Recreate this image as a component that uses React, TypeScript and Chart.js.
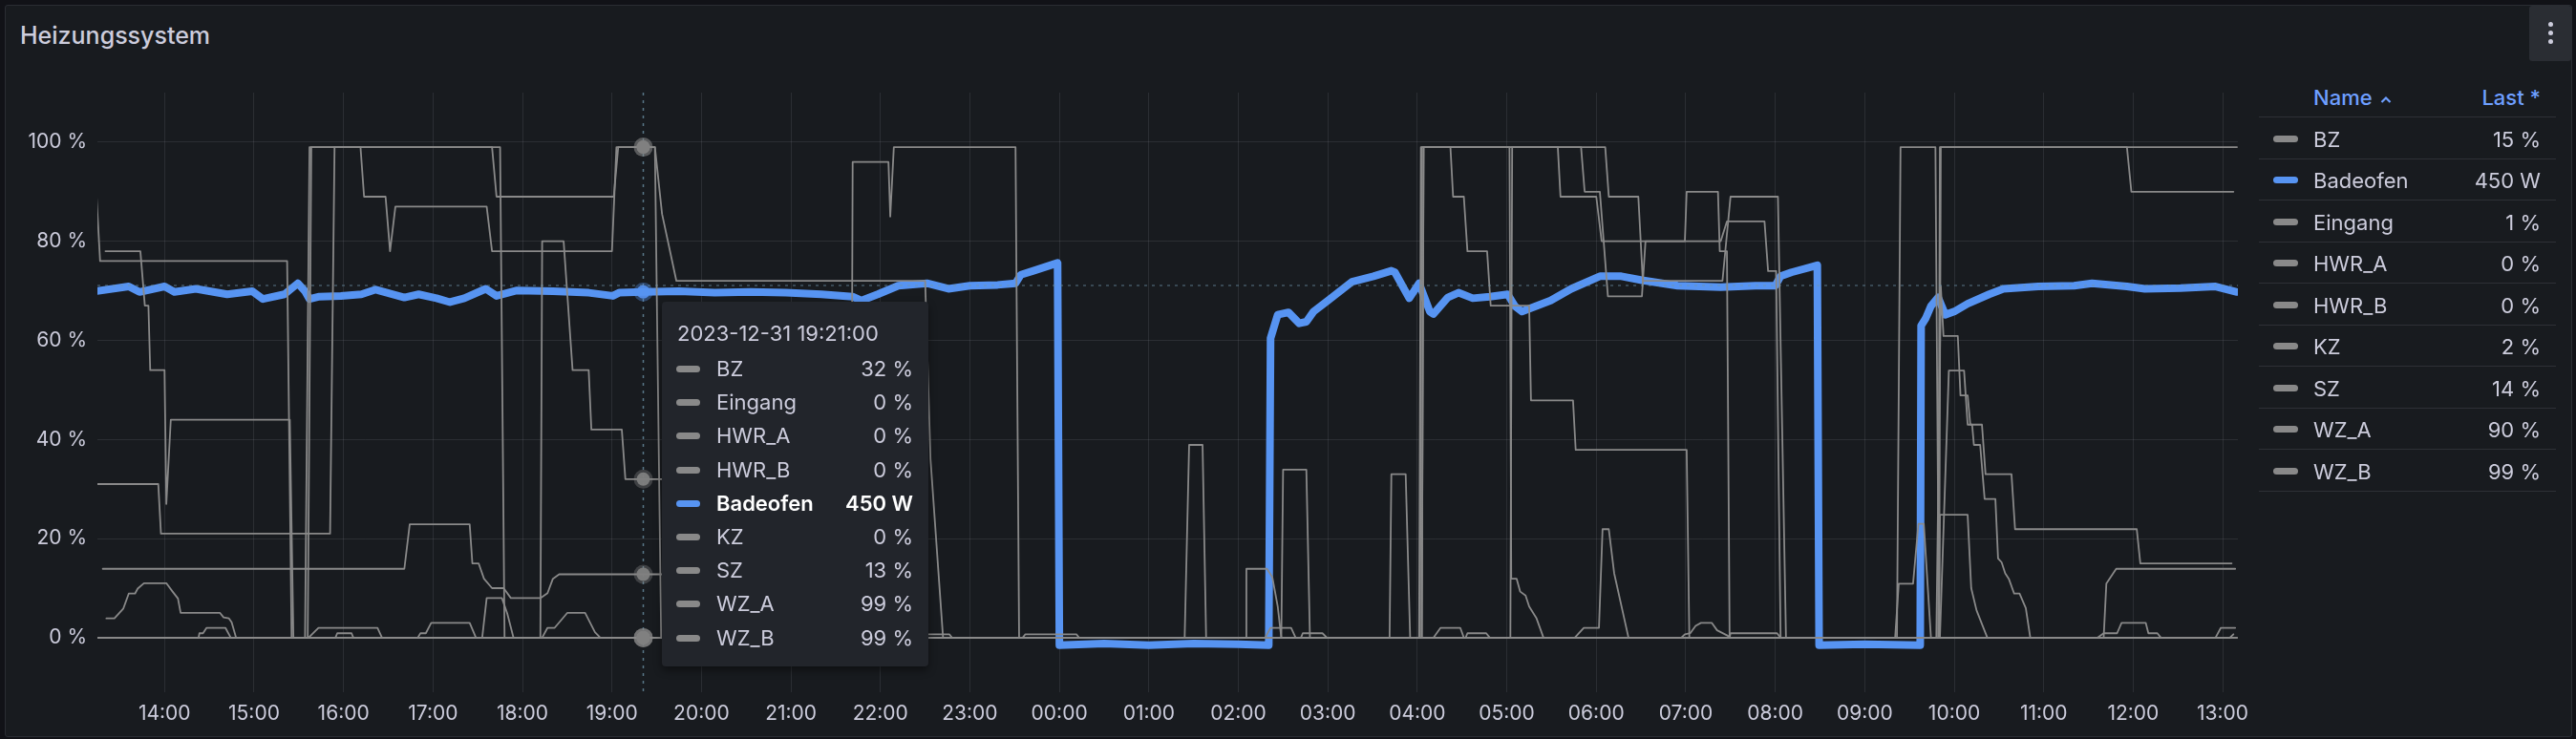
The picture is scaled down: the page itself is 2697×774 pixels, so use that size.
import React, { useEffect, useRef } from "react";
import { Chart, registerables } from "chart.js";

Chart.register(...registerables);

type P = [number, number];

// x values are hours counted from 2023-12-31 00:00
const X_MIN = 13.25;
const X_MAX = 37.17;
const HOUR_TICKS = [14, 15, 16, 17, 18, 19, 20, 21, 22, 23, 24, 25, 26, 27, 28, 29, 30, 31, 32, 33, 34, 35, 36, 37];
const PCT_TICKS = [0, 20, 40, 60, 80, 100];
const PCT_MIN = -11;
const PCT_MAX = 110;
const WATT_MIN = -60;
const WATT_MAX = 704;

const HOVER_T = 19.35;
const HOVER_PCT = 71.1;
const HOVER_DATE = "2023-12-31";

const BZ: P[] = [
  [13.34, 78], [13.73, 78], [13.78, 67], [13.82, 67], [13.84, 54], [14.0, 54], [14.02, 27], [14.07, 44],
  [15.4, 44], [15.44, 0], [15.6, 0], [15.64, 99], [17.75, 99], [17.8, 0], [18.2, 0], [18.22, 80],
  [18.46, 80], [18.56, 54], [18.74, 54], [18.77, 42], [19.11, 42], [19.15, 32], [21.0, 32], [21.05, 0],
  [26.48, 0], [26.5, 33.9], [26.76, 33.9], [26.8, 0], [29.04, 0], [29.06, 99], [30.1, 99], [30.14, 89],
  [30.47, 89], [30.52, 72], [31.41, 72], [31.5, 89], [32.03, 89], [32.12, 0], [33.8, 0], [33.85, 70.9],
  [33.88, 60.9], [34.04, 60.9], [34.07, 48.9], [34.15, 48.9], [34.18, 43], [34.31, 43], [34.35, 33],
  [34.64, 33], [34.68, 21.9], [36.04, 21.9], [36.08, 15], [37.1, 15],
];

const BADEOFEN: P[] = [
  [13.24, 451], [13.6, 457], [13.72, 450], [14.0, 457], [14.11, 450], [14.35, 454], [14.7, 447], [14.98, 451],
  [15.1, 441], [15.34, 447], [15.49, 461], [15.57, 451], [15.62, 441], [15.73, 444], [15.97, 445], [16.2, 447],
  [16.36, 453], [16.68, 443], [16.84, 447], [17.04, 442], [17.19, 437], [17.35, 442], [17.59, 454], [17.71, 445],
  [17.94, 452], [18.34, 451], [18.74, 449], [19.01, 445], [19.08, 449], [19.35, 450], [19.75, 451], [20.15, 449],
  [20.55, 450], [20.94, 449], [21.34, 447], [21.69, 444], [21.79, 439], [21.97, 447], [22.2, 458], [22.52, 461],
  [22.76, 454], [23.0, 458], [23.31, 459], [23.51, 461], [23.57, 472], [23.71, 477], [23.98, 487], [24.0, 0],
  [24.5, 2], [25.0, 0], [25.5, 2], [26.0, 1], [26.34, 0], [26.36, 391], [26.44, 421], [26.56, 424],
  [26.68, 410], [26.76, 412], [26.84, 425], [27.0, 439], [27.27, 463], [27.51, 470], [27.71, 477], [27.75, 475],
  [27.91, 442], [28.02, 461], [28.14, 425], [28.18, 422], [28.34, 443], [28.46, 449], [28.62, 442], [28.81, 444],
  [29.01, 447], [29.09, 432], [29.17, 425], [29.33, 432], [29.49, 439], [29.72, 454], [30.04, 470], [30.28, 470],
  [30.51, 465], [30.91, 458], [31.39, 456], [31.78, 458], [32.0, 458], [32.06, 470], [32.18, 475], [32.47, 484],
  [32.49, 0], [33.0, 1], [33.62, 0], [33.63, 407], [33.68, 416], [33.74, 432], [33.82, 443], [33.9, 421],
  [34.0, 425], [34.15, 435], [34.39, 447], [34.55, 454], [34.94, 457], [35.34, 458], [35.54, 461], [35.93, 457],
  [36.13, 454], [36.53, 455], [36.92, 457], [37.16, 450],
];

const EINGANG: P[] = [
  [13.24, 0], [14.38, 0], [14.39, 0.9], [14.43, 0.9], [14.47, 2], [14.68, 2], [14.74, 0], [16.83, 0],
  [16.86, 0.9], [16.92, 0.9], [16.98, 3], [17.41, 3], [17.48, 0], [23.59, 0], [23.62, 0.7], [24.19, 0.7],
  [24.22, 0], [26.3, 0], [26.36, 2], [26.59, 2], [26.64, 0], [28.18, 0], [28.26, 2], [28.48, 2], [28.52, 0],
  [30.95, 0], [30.99, 0.7], [31.05, 0.9], [31.11, 2.4], [31.17, 3], [31.29, 3], [31.35, 1.5], [31.47, 0.4],
  [31.49, 0], [33.83, 0], [33.84, 24.8], [34.15, 24.8], [34.19, 10], [34.25, 5.5], [34.37, 0], [37.08, 0],
  [37.12, 0.7],
];

const HWR_A: P[] = [
  [13.24, 0], [15.61, 0], [15.72, 2], [16.38, 2], [16.43, 0], [18.22, 0], [18.28, 2], [18.36, 2], [18.5, 5],
  [18.7, 5], [18.81, 1.1], [18.87, 0], [25.4, 0], [25.45, 38.9], [25.6, 38.9], [25.64, 0], [27.69, 0],
  [27.71, 33], [27.87, 33], [27.92, 0], [28.05, 0], [28.07, 99], [29.03, 99], [29.05, 11.9], [29.11, 11.9],
  [29.15, 9.3], [29.21, 8.5], [29.25, 6.3], [29.33, 4], [29.41, 0], [35.6, 0], [35.67, 0.9], [35.82, 0.9],
  [35.87, 3], [36.14, 3], [36.17, 0.9], [36.27, 0.9], [36.31, 0], [37.16, 0],
];

const HWR_B: P[] = [
  [13.24, 0], [15.91, 0], [15.93, 0.9], [16.09, 0.9], [16.11, 0], [22.5, 0], [22.52, 0.7], [22.77, 0.7],
  [22.8, 0], [26.7, 0], [26.72, 0.9], [26.94, 0.9], [26.99, 0], [28.54, 0], [28.56, 0.9], [28.77, 0.9],
  [28.81, 0], [31.49, 0], [31.5, 0.9], [32.02, 0.9], [32.06, 0], [33.36, 0], [33.4, 99], [33.79, 99],
  [33.83, 0], [37.16, 0],
];

const KZ: P[] = [
  [13.35, 3.9], [13.44, 3.9], [13.54, 5.9], [13.6, 8.9], [13.67, 8.9], [13.7, 9.9], [13.77, 11], [14.02, 11],
  [14.09, 9.3], [14.15, 7.9], [14.18, 5], [14.62, 5], [14.66, 4.1], [14.72, 3.9], [14.75, 3.1], [14.8, 0],
  [17.55, 0], [17.6, 8], [17.77, 8], [17.83, 4.9], [17.9, 0], [29.76, 0], [29.86, 2], [30.03, 2],
  [30.07, 21.9], [30.14, 21.9], [30.2, 13], [30.36, 0], [33.34, 0], [33.38, 10.9], [33.54, 10.9], [33.6, 23],
  [33.66, 23], [33.74, 0], [36.92, 0], [36.98, 2], [37.14, 2],
];

const SZ: P[] = [
  [13.31, 13.9], [16.68, 13.9], [16.74, 22.9], [17.41, 22.9], [17.44, 15], [17.51, 15], [17.57, 11.9],
  [17.66, 10], [17.79, 10], [17.87, 8], [18.2, 8], [18.28, 9], [18.34, 11.9], [18.41, 12.8], [20.5, 12.8],
  [20.55, 0], [26.08, 0], [26.09, 13.9], [26.32, 13.9], [26.38, 12.2], [26.44, 6.3], [26.48, 0], [28.02, 0],
  [28.04, 99], [28.37, 99], [28.4, 89], [28.52, 89], [28.56, 78], [28.78, 78], [28.82, 67], [29.25, 67],
  [29.27, 47.9], [29.74, 47.9], [29.77, 37.9], [31.01, 37.9], [31.04, 0], [33.84, 0], [33.94, 53.9],
  [34.11, 53.9], [34.15, 43], [34.2, 43], [34.22, 38.9], [34.29, 38.9], [34.34, 28], [34.46, 28], [34.49, 16],
  [34.53, 15.2], [34.57, 13], [34.61, 11.9], [34.67, 8.9], [34.73, 8.9], [34.8, 6], [34.85, 0], [35.67, 0],
  [35.7, 10.9], [35.81, 13.9], [37.14, 13.9],
];

const WZ_A: P[] = [
  [13.24, 31], [13.93, 31], [13.96, 21], [15.85, 21], [15.9, 99], [16.19, 99], [16.23, 89], [16.47, 89],
  [16.52, 78], [16.58, 87], [17.6, 87], [17.66, 78], [19.0, 78], [19.05, 99], [19.48, 99], [19.55, 0],
  [21.67, 0], [21.69, 96], [22.09, 96], [22.11, 85], [22.15, 99], [23.51, 99], [23.55, 0], [28.03, 0],
  [28.05, 99], [29.57, 99], [29.6, 89], [30.0, 89], [30.06, 80], [30.99, 80], [31.01, 90], [31.36, 90],
  [31.38, 78], [31.46, 78], [31.49, 0], [33.82, 0], [33.84, 99], [35.93, 99], [35.98, 90], [37.12, 90],
];

const WZ_B: P[] = [
  [13.24, 89], [13.28, 76], [15.37, 76], [15.42, 0], [15.57, 0], [15.62, 99], [17.66, 99], [17.71, 89],
  [19.02, 89], [19.07, 99], [19.48, 99], [19.56, 85.5], [19.72, 72], [22.5, 72], [22.56, 36], [22.7, 0],
  [28.05, 0], [28.07, 99], [29.83, 99], [29.87, 90], [30.04, 90], [30.13, 68.9], [30.51, 68.9], [30.55, 80],
  [31.39, 80], [31.46, 84], [31.88, 84], [31.92, 74], [32.01, 74], [32.06, 0], [33.83, 0], [33.85, 99],
  [37.16, 99],
];

const GRAY = "#898989";
const BLUE = "#5794F2";
const TEXT = "#ccccdc";
const LINK = "#6e9fff";
const GRID = "rgba(204,204,220,0.11)";

type Series = { name: string; data: P[]; unit: string; color: string };

const LEGEND_SERIES: Series[] = [
  { name: "BZ", data: BZ, unit: "%", color: GRAY },
  { name: "Badeofen", data: BADEOFEN, unit: "W", color: BLUE },
  { name: "Eingang", data: EINGANG, unit: "%", color: GRAY },
  { name: "HWR_A", data: HWR_A, unit: "%", color: GRAY },
  { name: "HWR_B", data: HWR_B, unit: "%", color: GRAY },
  { name: "KZ", data: KZ, unit: "%", color: GRAY },
  { name: "SZ", data: SZ, unit: "%", color: GRAY },
  { name: "WZ_A", data: WZ_A, unit: "%", color: GRAY },
  { name: "WZ_B", data: WZ_B, unit: "%", color: GRAY },
];

const TOOLTIP_ORDER = ["BZ", "Eingang", "HWR_A", "HWR_B", "Badeofen", "KZ", "SZ", "WZ_A", "WZ_B"];

function valueAt(d: P[], t: number): number {
  if (t <= d[0][0]) return d[0][1];
  for (let i = 1; i < d.length; i++) {
    if (d[i][0] >= t) {
      const [x0, y0] = d[i - 1];
      const [x1, y1] = d[i];
      return y0 + ((y1 - y0) * (t - x0)) / (x1 - x0);
    }
  }
  return d[d.length - 1][1];
}

const fmtVal = (v: number, unit: string) => `${Math.round(v)} ${unit}`;
const pad2 = (n: number) => (n < 10 ? "0" + n : "" + n);
const fmtHour = (h: number) => `${pad2(((Math.round(h) % 24) + 24) % 24)}:00`;
const fmtTime = (h: number) => {
  const m = Math.round(h * 60);
  return `${pad2(Math.floor(m / 60) % 24)}:${pad2(m % 60)}:00`;
};

const hoverPlugin = {
  id: "hoverMarks",
  afterDatasetsDraw(chart: any) {
    const { ctx, chartArea, scales } = chart;
    const px = scales.x.getPixelForValue(HOVER_T);
    const py = scales.y.getPixelForValue(HOVER_PCT);
    ctx.save();
    ctx.strokeStyle = "rgba(110,150,170,0.75)";
    ctx.lineWidth = 1.5;
    ctx.setLineDash([3, 5]);
    ctx.beginPath();
    ctx.moveTo(px, chartArea.top);
    ctx.lineTo(px, chartArea.bottom);
    ctx.stroke();
    ctx.strokeStyle = "rgba(110,150,170,0.5)";
    ctx.beginPath();
    ctx.moveTo(chartArea.left, py);
    ctx.lineTo(chartArea.right, py);
    ctx.stroke();
    ctx.setLineDash([]);
    LEGEND_SERIES.forEach((s) => {
      const v = valueAt(s.data, HOVER_T);
      const scale = s.unit === "W" ? scales.y2 : scales.y;
      const y = scale.getPixelForValue(v);
      ctx.beginPath();
      ctx.fillStyle = s.unit === "W" ? "rgba(87,148,242,0.35)" : "rgba(137,137,137,0.35)";
      ctx.arc(px, y, 10, 0, Math.PI * 2);
      ctx.fill();
      ctx.beginPath();
      ctx.fillStyle = s.unit === "W" ? "rgba(87,148,242,0.9)" : "rgba(128,128,128,0.95)";
      ctx.arc(px, y, 7, 0, Math.PI * 2);
      ctx.fill();
    });
    ctx.restore();
  },
};

export default function App() {
  const ref = useRef<HTMLCanvasElement>(null);

  useEffect(() => {
    const datasets = LEGEND_SERIES.map((s) => ({
      label: s.name,
      data: s.data.map(([x, y]) => ({ x, y })),
      borderColor: s.color,
      backgroundColor: s.color,
      borderWidth: s.unit === "W" ? 8 : 1.8,
      pointRadius: 0,
      tension: 0,
      fill: false,
      yAxisID: s.unit === "W" ? "y2" : "y",
      order: s.unit === "W" ? 1 : 0,
      borderJoinStyle: "round" as const,
      borderCapStyle: "round" as const,
    }));
    const chart = new Chart(ref.current!, {
      type: "line",
      data: { datasets },
      options: {
        animation: false,
        responsive: false,
        devicePixelRatio: 1,
        events: [],
        layout: { padding: { top: 97, right: 57, bottom: 9, left: 0 } },
        plugins: { legend: { display: false }, tooltip: { enabled: false } },
        scales: {
          x: {
            type: "linear",
            min: X_MIN,
            max: X_MAX,
            afterBuildTicks: (s: any) => {
              s.ticks = HOUR_TICKS.map((v) => ({ value: v }));
            },
            afterFit: (s: any) => {
              s.height = 40;
            },
            grid: { color: GRID, drawTicks: false, lineWidth: 1 },
            border: { display: false },
            ticks: {
              autoSkip: false,
              maxRotation: 0,
              padding: 10,
              color: TEXT,
              font: { family: "Inter", size: 21 },
              callback: (v: any) => fmtHour(Number(v)),
            },
          },
          y: {
            type: "linear",
            min: PCT_MIN,
            max: PCT_MAX,
            afterBuildTicks: (s: any) => {
              s.ticks = PCT_TICKS.map((v) => ({ value: v }));
            },
            afterFit: (s: any) => {
              s.width = 102;
            },
            grid: { color: GRID, drawTicks: false, lineWidth: 1 },
            border: { display: false },
            ticks: {
              padding: 11,
              color: TEXT,
              font: { family: "Inter", size: 21 },
              callback: (v: any) => `${v} %`,
            },
          },
          y2: {
            type: "linear",
            display: false,
            position: "right",
            min: WATT_MIN,
            max: WATT_MAX,
          },
        },
      },
      plugins: [hoverPlugin],
    } as any);
    return () => chart.destroy();
  }, []);

  const rowH = 43.5;
  const legendTop = 122;
  const tipRows = TOOLTIP_ORDER.map((n) => LEGEND_SERIES.find((s) => s.name === n)!);

  return (
    <div
      style={{
        position: "fixed",
        left: 0,
        top: 0,
        width: 2697,
        height: 774,
        background: "#111217",
        fontFamily: "Inter, 'Noto Sans', sans-serif",
        overflow: "hidden",
        color: TEXT,
      }}
    >
      <div
        style={{
          position: "absolute",
          left: 5,
          top: 5,
          width: 2688,
          height: 767,
          background: "#181b1f",
          border: "1px solid #2a2d33",
          borderRadius: 3,
          boxSizing: "border-box",
        }}
      />
      <div
        style={{
          position: "absolute",
          left: 21,
          top: 22,
          lineHeight: "30px",
          fontSize: 25,
          fontWeight: 500,
          color: TEXT,
          whiteSpace: "nowrap",
        }}
      >
        Heizungssystem
      </div>
      <div
        style={{
          position: "absolute",
          left: 2648,
          top: 6,
          width: 44,
          height: 58,
          background: "#2a2d33",
          borderRadius: 3,
        }}
      >
        {[25, 34, 43].map((y) => (
          <div
            key={y}
            style={{
              position: "absolute",
              left: 20,
              top: y - 6 - 2,
              width: 5,
              height: 5,
              borderRadius: 3,
              background: TEXT,
            }}
          />
        ))}
      </div>

      <canvas ref={ref} width={2400} height={774} style={{ position: "absolute", left: 0, top: 0 }} />

      {/* legend table */}
      <div
        style={{
          position: "absolute",
          left: 2422,
          top: 102 - 15,
          lineHeight: "30px",
          fontSize: 22,
          fontWeight: 500,
          color: LINK,
          whiteSpace: "nowrap",
          display: "flex",
          alignItems: "center",
        }}
      >
        Name
        <svg width="12" height="10" style={{ marginLeft: 8, marginTop: 4 }}>
          <polyline points="1.5,8 6,3.5 10.5,8" fill="none" stroke={LINK} strokeWidth="2.2" />
        </svg>
      </div>
      <div
        style={{
          position: "absolute",
          right: 2697 - 2660,
          top: 102 - 15,
          lineHeight: "30px",
          fontSize: 22,
          fontWeight: 500,
          color: LINK,
          whiteSpace: "nowrap",
        }}
      >
        Last *
      </div>
      {Array.from({ length: LEGEND_SERIES.length + 1 }).map((_, k) => (
        <div
          key={"sep" + k}
          style={{
            position: "absolute",
            left: 2365,
            top: legendTop + k * rowH,
            width: 311,
            height: 1,
            background: "rgba(204,204,220,0.12)",
          }}
        />
      ))}
      {LEGEND_SERIES.map((s, i) => {
        const cy = legendTop + rowH / 2 + i * rowH + 2;
        const last = s.data[s.data.length - 1][1];
        return (
          <React.Fragment key={s.name}>
            <div
              style={{
                position: "absolute",
                left: 2380,
                top: cy - 4,
                width: 26,
                height: 7,
                borderRadius: 4,
                background: s.color,
              }}
            />
            <div
              style={{
                position: "absolute",
                left: 2422,
                top: cy - 15,
                lineHeight: "30px",
                fontSize: 22,
                whiteSpace: "nowrap",
              }}
            >
              {s.name}
            </div>
            <div
              style={{
                position: "absolute",
                right: 2697 - 2660,
                top: cy - 15,
                lineHeight: "30px",
                fontSize: 22,
                whiteSpace: "nowrap",
              }}
            >
              {fmtVal(last, s.unit)}
            </div>
          </React.Fragment>
        );
      })}

      {/* hover tooltip */}
      <div
        style={{
          position: "absolute",
          left: 693,
          top: 316,
          width: 279,
          height: 382,
          background: "#22252b",
          borderRadius: 4,
          boxShadow: "0 4px 8px rgba(0,0,0,0.45)",
        }}
      >
        <div
          style={{
            position: "absolute",
            left: 16,
            top: 33 - 15,
            lineHeight: "30px",
            fontSize: 22,
            whiteSpace: "nowrap",
          }}
        >
          {HOVER_DATE} {fmtTime(HOVER_T)}
        </div>
        {tipRows.map((s, i) => {
          const cy = 70 + i * 35.2;
          const bold = s.unit === "W";
          return (
            <React.Fragment key={s.name}>
              <div
                style={{
                  position: "absolute",
                  left: 15,
                  top: cy - 3,
                  width: 25,
                  height: 7,
                  borderRadius: 4,
                  background: s.color,
                }}
              />
              <div
                style={{
                  position: "absolute",
                  left: 57,
                  top: cy - 15,
                  lineHeight: "30px",
                  fontSize: 22,
                  whiteSpace: "nowrap",
                  fontWeight: bold ? 600 : 400,
                  color: bold ? "#ffffff" : TEXT,
                }}
              >
                {s.name}
              </div>
              <div
                style={{
                  position: "absolute",
                  right: 16,
                  top: cy - 15,
                  lineHeight: "30px",
                  fontSize: 22,
                  whiteSpace: "nowrap",
                  fontWeight: bold ? 600 : 400,
                  color: bold ? "#ffffff" : TEXT,
                }}
              >
                {fmtVal(valueAt(s.data, HOVER_T), s.unit)}
              </div>
            </React.Fragment>
          );
        })}
      </div>
    </div>
  );
}
